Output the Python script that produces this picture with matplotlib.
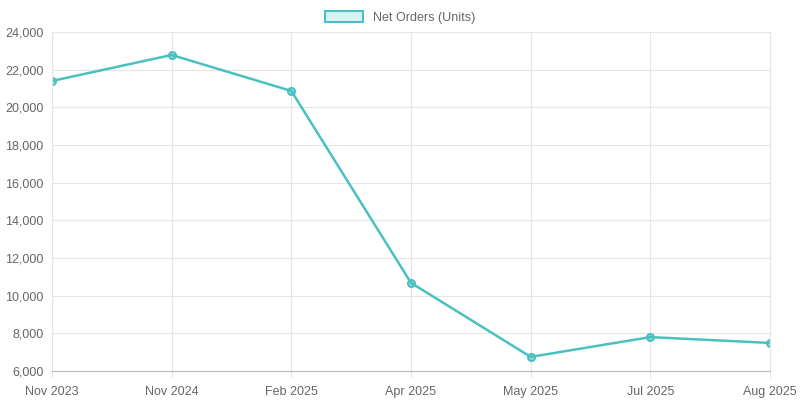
import matplotlib
matplotlib.use("Agg")
import matplotlib.pyplot as plt
from matplotlib.patches import Patch

labels = ["Nov 2023", "Nov 2024", "Feb 2025", "Apr 2025", "May 2025", "Jul 2025", "Aug 2025"]
values = [21400, 22780, 20870, 10680, 6750, 7800, 7490]

plt.rcParams['font.family'] = ['Liberation Sans', 'DejaVu Sans']
fig = plt.figure(figsize=(8, 4), dpi=100)
ax = fig.add_axes([0.065, 0.0725, 0.8975, 0.8475])
c = "#4bc0c0"
x = list(range(len(labels)))
ax.plot(x, values, color=c, lw=1.8, marker="o", ms=5, mfc=(75/255, 192/255, 192/255, 0.5), mec=c, mew=1.5)
ax.set_xlim(0, len(labels) - 1)
ax.set_ylim(6000, 24000)
ax.set_yticks(range(6000, 24001, 2000))
ax.set_yticklabels([f"{v:,}" for v in range(6000, 24001, 2000)])
ax.set_xticks(x)
ax.set_xticklabels(labels)
ax.grid(True, color="#e5e5e5", lw=0.8)
for s in ax.spines.values():
    s.set_color("#e5e5e5")
ax.spines['bottom'].set_color("#bbbbbb")
ax.tick_params(colors="#666666", labelsize=9, length=0, pad=6)
ax.tick_params(axis='x', length=5, color="#e5e5e5")
leg = fig.legend(handles=[Patch(facecolor=(75/255, 192/255, 192/255, 0.2), edgecolor=c, lw=1.5, label="Net Orders (Units)")],
                 loc="upper center", bbox_to_anchor=(0.5, 1.0), frameon=False, fontsize=9,
                 handlelength=3, handleheight=0.9, labelcolor="#666666")
fig.savefig("out.png", dpi=100)
